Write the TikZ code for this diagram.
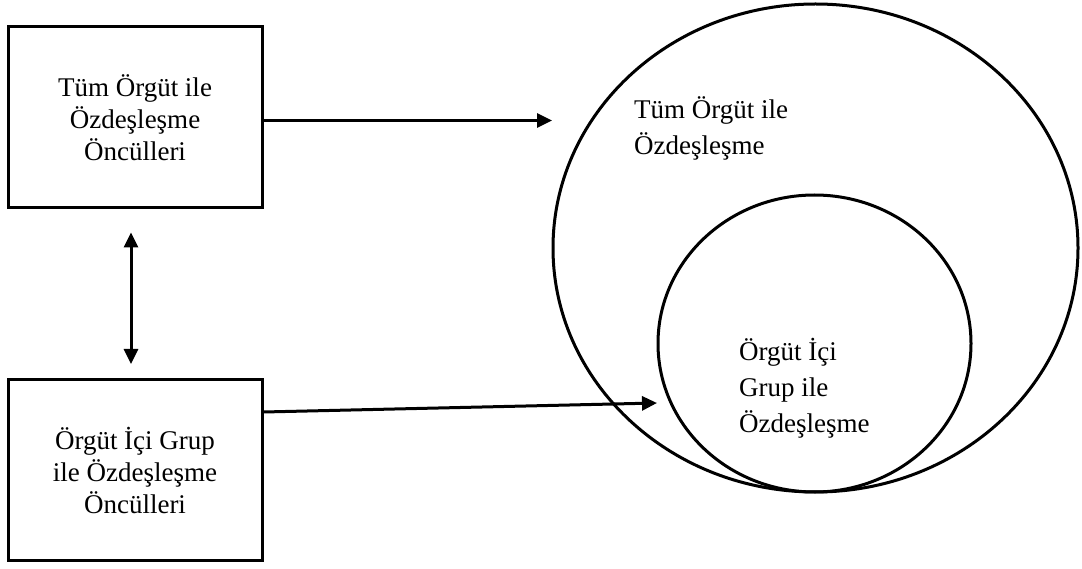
\documentclass[tikz,border=0pt]{standalone}
\usepackage{fontspec}
\setmainfont{Liberation Serif}
\usetikzlibrary{arrows.meta,shapes.geometric}
\begin{document}
\begin{tikzpicture}[x=1pt,y=-1pt,
  every node/.style={font=\fontsize{27}{32}\selectfont},
  boxnode/.style={draw,line width=3pt,minimum width=254pt,minimum height=181pt,inner sep=0pt,align=center},
  ringnode/.style={draw,ellipse,line width=3pt,inner sep=0pt},
  lbl/.style={align=left,inner sep=0pt,anchor=north west,font=\fontsize{27}{36}\selectfont},
  arr/.style={line width=3pt,-{Triangle[length=15pt,width=14pt]}},
  dblarr/.style={line width=3pt,{Triangle[length=15pt,width=14pt]}-{Triangle[length=15pt,width=14pt]}}]
\useasboundingbox (0,0) rectangle (1082,569);
\node[boxnode] (top) at (135,117.5) {Tüm Örgüt ile\\Özdeşleşme\\Öncülleri};
\node[boxnode] (bot) at (135,470) {Örgüt İçi Grup\\ile Özdeşleşme\\Öncülleri};
\node[ringnode,minimum width=525pt,minimum height=488pt] (big) at (815.5,248) {};
\node[ringnode,minimum width=313pt,minimum height=297pt] (small) at (814.5,343.5) {};
\node[lbl] (bigtext) at (634,96) {Tüm Örgüt ile\\Özdeşleşme};
\node[lbl] (smalltext) at (739,338) {Örgüt İçi\\Grup ile\\Özdeşleşme};
\coordinate (t1) at (552,120.5);
\coordinate (t2) at (657,403);
\draw[arr] ([yshift=-3pt]top.east) -- (t1);
\draw[arr] ([yshift=58pt]bot.east) -- (t2);
\draw[dblarr,shorten <=23pt,shorten >=14pt] ([xshift=-4pt]top.south) -- ([xshift=-4pt]bot.north);
\end{tikzpicture}
\end{document}
